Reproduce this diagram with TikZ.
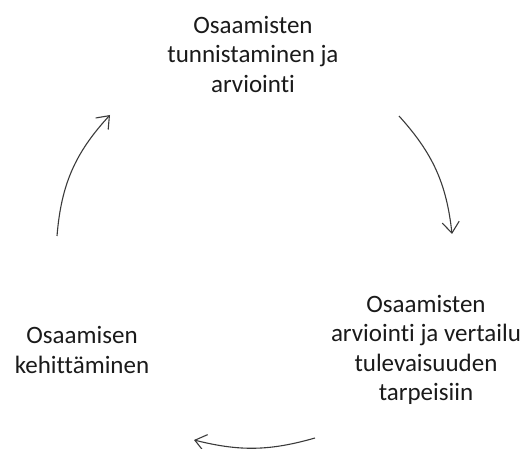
\documentclass[tikz,border=0pt]{standalone}
\usepackage{fontspec}
\setmainfont{Carlito}[Ligatures={NoCommon,NoContextual}]
\usetikzlibrary{arrows.meta}
\definecolor{cyctext}{HTML}{1A1A1A}
\definecolor{cycline}{HTML}{3A3A3A}

\begin{document}
\begin{tikzpicture}[x=1pt, y=-1pt,
  lbl/.style ={align=center, inner sep=0pt, text=cyctext, font=\fontsize{25}{29.5}\selectfont},
  cyc/.style ={draw=cycline, line width=1.1pt, -{Straight Barb[length=11pt, width=17pt, line width=1.1pt]}},
]
\useasboundingbox (0,0) rectangle (525,449);

% the three phases
\node[lbl] (ident)   at (253,54)  {Osaamisten\\tunnistaminen ja\\arviointi};
\node[lbl] (compare) at (426,350) {Osaamisten\\arviointi ja vertailu\\tulevaisuuden\\tarpeisiin};
\node[lbl] (develop) at (82,350)  {Osaamisen\\kehittäminen};

% arrow ends
\coordinate (identOut)   at (399,116);
\coordinate (compareIn)  at (452,234);
\coordinate (compareOut) at (315,438);
\coordinate (developIn)  at (194,440);
\coordinate (developOut) at (57,236);
\coordinate (identIn)    at (110,115);

% cycle
\draw[cyc] (identOut)   to[bend left=18] (compareIn);
\draw[cyc] (compareOut) to[bend left=15] (developIn);
\draw[cyc] (developOut) to[bend left=19] (identIn);
\end{tikzpicture}
\end{document}
